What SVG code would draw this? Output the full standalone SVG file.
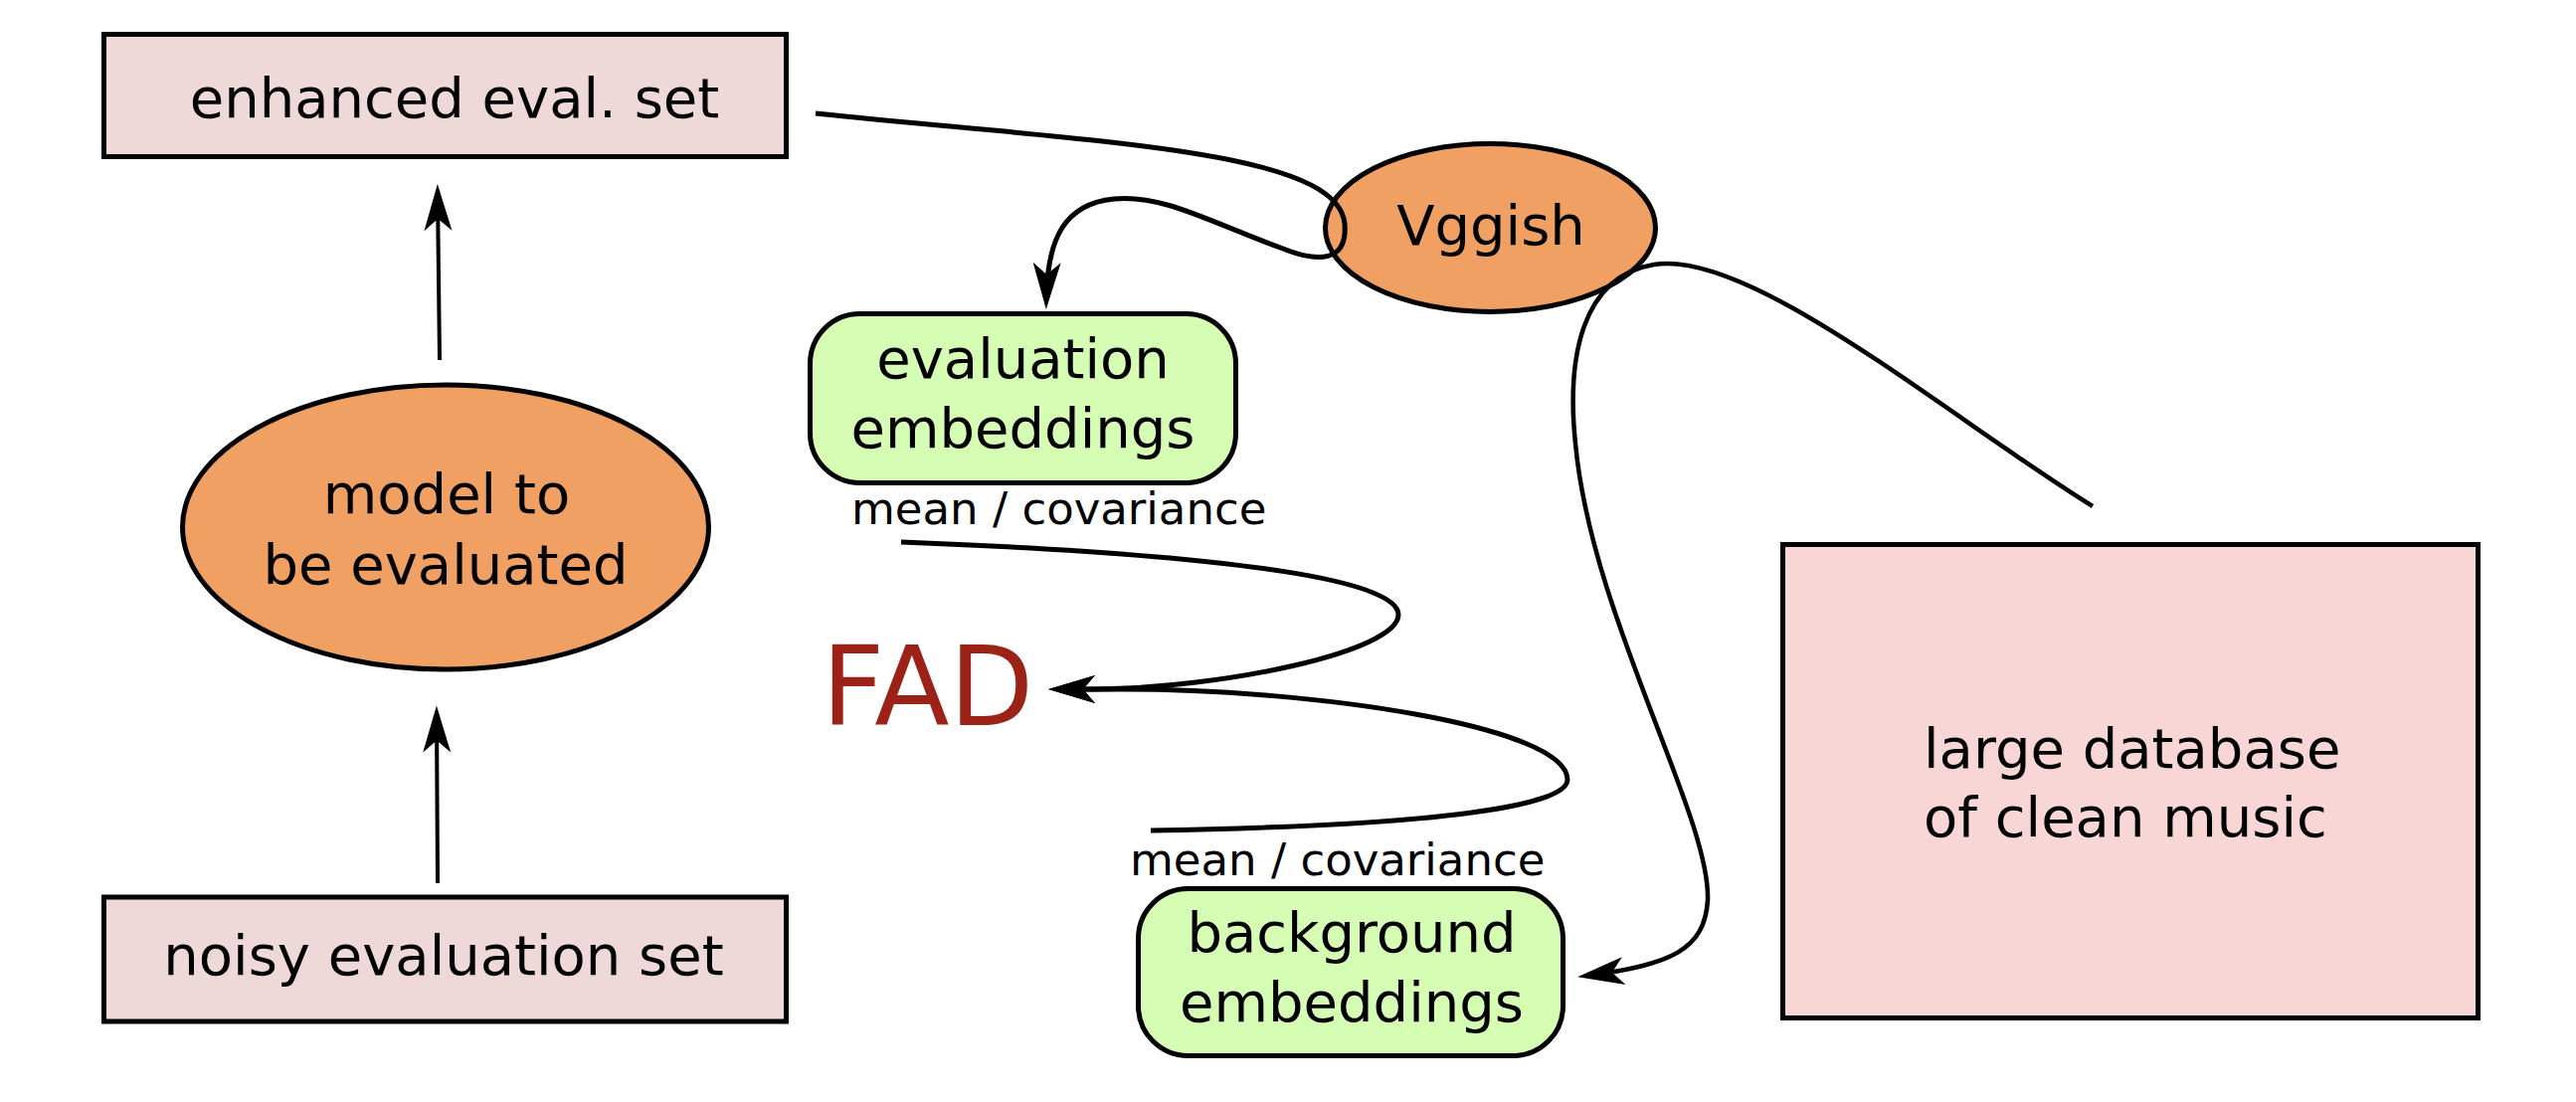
<svg xmlns="http://www.w3.org/2000/svg" width="2590" height="1108" viewBox="0 0 2590 1108">
<style>
text{font-family:"DejaVu Sans","Liberation Sans",sans-serif;fill:#000}
.t{font-size:56px}
.s{font-size:45px}
.box{fill:#eed8d8;stroke:#000;stroke-width:5}
.db{fill:#f8d6d6;stroke:#000;stroke-width:5}
.ell{fill:#f0a062;stroke:#000;stroke-width:5}
.emb{fill:#d5fdb3;stroke:#000;stroke-width:5}
.c{fill:none;stroke:#000;stroke-width:5}
.a{fill:none;stroke:#000;stroke-width:4;marker-end:url(#arr)}
</style>
<defs>
<marker id="arr" markerUnits="userSpaceOnUse" markerWidth="60" markerHeight="40" viewBox="-45 -20 60 40" refX="0" refY="0" orient="auto" overflow="visible">
<path d="M 10 0 L -37 -14 L -25 0 L -37 14 Z" fill="#000"/>
</marker>
</defs>
<g id="enhanced">
<rect class="box" x="104.5" y="34.5" width="686" height="123"/>
<text class="t" x="457" y="118" text-anchor="middle">enhanced eval. set</text>
</g>
<g id="model">
<ellipse class="ell" cx="448" cy="530" rx="264.5" ry="143"/>
<text class="t" x="449" y="516" text-anchor="middle">model to</text>
<text class="t" x="448" y="587" text-anchor="middle">be evaluated</text>
</g>
<g id="noisy">
<rect class="box" x="104.5" y="902" width="686" height="125"/>
<text class="t" x="446" y="980" text-anchor="middle">noisy evaluation set</text>
</g>
<g id="evalemb">
<rect class="emb" x="814.5" y="315.5" width="428" height="170" rx="50" ry="50"/>
<text class="t" x="1028.5" y="380" text-anchor="middle">evaluation</text>
<text class="t" x="1028.5" y="450" text-anchor="middle">embeddings</text>
</g>
<g id="vggish">
<ellipse class="ell" cx="1498.5" cy="229" rx="166" ry="84.5"/>
<text class="t" x="1499" y="246" text-anchor="middle">Vggish</text>
</g>
<g id="database">
<rect class="db" x="1792.5" y="547.5" width="699" height="476"/>
<text class="t" x="1934" y="772">large database</text>
<text class="t" x="1934" y="841">of clean music</text>
</g>
<g id="bgemb">
<rect class="emb" x="1144.5" y="893.5" width="427" height="168" rx="50" ry="50"/>
<text class="t" x="1359" y="957" text-anchor="middle">background</text>
<text class="t" x="1359" y="1027" text-anchor="middle">embeddings</text>
</g>
<g id="fad">
<text x="826" y="729" style="font-size:110px;fill:#9c2117">FAD</text>
</g>
<g id="labels">
<text class="s" x="856" y="527">mean / covariance</text>
<text class="s" x="1136" y="880">mean / covariance</text>
</g>
<g id="connectors">
<path class="a" d="M 442 362 L 440 195"/>
<path class="a" d="M 440 888 L 439 719.5"/>
<path class="c" style="marker-end:url(#arr)" d="M 820 114 C 1100 143, 1345 150, 1352 225 C 1355 264, 1325 264, 1290 250 C 1220 225, 1170 195, 1120 200 C 1070 205, 1053 240, 1052 301"/>
<path class="c" style="stroke-width:4.5;marker-end:url(#arr)" d="M 2104 509 C 1960 420, 1760 250, 1663 266 C 1590 278, 1575 360, 1584 446 C 1600 620, 1720 820, 1717 905 C 1714 955, 1680 970, 1596 981"/>
<path class="c" style="marker-end:url(#arr)" d="M 906 545 C 1300 560, 1406 590, 1406 618 C 1406 655, 1230 692, 1100 693 L 1064 693"/>
<path class="c" style="marker-end:url(#arr)" d="M 1157 835 C 1450 830, 1576 810, 1576 784 C 1576 730, 1320 693, 1130 693 L 1064 693"/>
</g>
</svg>
